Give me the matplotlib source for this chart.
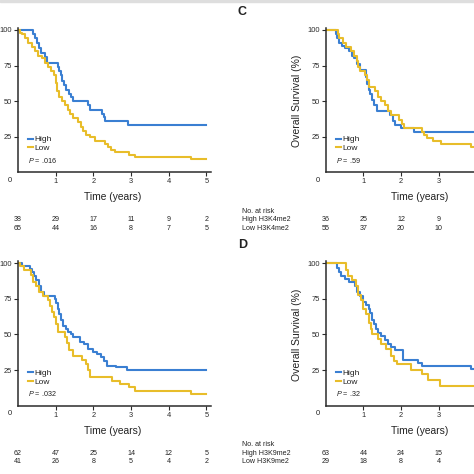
import matplotlib
matplotlib.use("Agg")
import matplotlib.pyplot as plt
from matplotlib.patches import Rectangle

plt.rcParams['font.family'] = ['Liberation Sans', 'DejaVu Sans']
plt.rcParams['mathtext.fontset'] = 'custom'
plt.rcParams['mathtext.it'] = 'Liberation Sans:italic'
plt.rcParams['mathtext.rm'] = 'Liberation Sans'
plt.rcParams['axes.linewidth'] = 1.1
plt.rcParams['axes.edgecolor'] = '#2b2b2b'
plt.rcParams['xtick.color'] = '#2b2b2b'
plt.rcParams['ytick.color'] = '#2b2b2b'
plt.rcParams['text.color'] = '#222222'

BLUE = '#3a7fd2'
YELLOW = '#e8bd2a'

# ---- data ----
tl_high_t = [0, 0.41, 0.45, 0.50, 0.55, 0.60, 0.72, 0.78, 1.05, 1.10, 1.13, 1.18, 1.23, 1.28,
             1.34, 1.40, 1.46, 1.85, 1.90, 2.22, 2.27, 2.32, 2.93, 5.0]
tl_high_s = [100, 97, 94, 91, 87, 84, 81, 77, 74, 71, 68, 64, 61, 58,
             55, 53, 50, 47, 44, 41, 39, 36, 33, 33]
tl_low_t = [0, 0.05, 0.10, 0.18, 0.27, 0.36, 0.45, 0.54, 0.63, 0.72, 0.80, 0.88, 0.95, 1.00,
            1.04, 1.09, 1.18, 1.25, 1.32, 1.38, 1.45, 1.60, 1.67, 1.73, 1.80, 1.90, 2.05,
            2.30, 2.38, 2.47, 2.56, 2.95, 3.10, 4.60, 5.0]
tl_low_s = [100, 98, 97, 94, 91, 88, 85, 82, 80, 77, 74, 71, 68, 63,
            57, 53, 50, 47, 44, 41, 38, 35, 32, 29, 26, 25, 22,
            20, 18, 16, 14, 12, 11, 9, 9]

tr_high_t = [0, 0.26, 0.30, 0.36, 0.42, 0.50, 0.62, 0.70, 0.75, 0.83, 0.90, 1.06, 1.10, 1.14,
             1.18, 1.22, 1.28, 1.36, 1.70, 1.78, 1.85, 2.00, 2.35, 5.0]
tr_high_s = [100, 97, 94, 91, 89, 87, 85, 82, 80, 76, 72, 67, 62, 58,
             55, 51, 47, 43, 40, 36, 33, 31, 28, 28]
tr_low_t = [0, 0.32, 0.36, 0.45, 0.55, 0.68, 0.76, 0.82, 0.87, 0.92, 1.04, 1.10, 1.15, 1.32,
            1.40, 1.48, 1.56, 1.66, 1.74, 1.95, 2.02, 2.08, 2.55, 2.62, 2.70, 2.85, 3.05,
            3.85, 4.30, 5.0]
tr_low_s = [100, 97, 94, 91, 88, 85, 82, 78, 74, 71, 68, 65, 60, 57,
            53, 50, 47, 43, 40, 37, 34, 31, 28, 26, 24, 22, 20,
            18, 16, 16]

bl_high_t = [0, 0.10, 0.32, 0.37, 0.42, 0.47, 0.55, 0.60, 0.68, 0.97, 1.02, 1.06, 1.10, 1.15,
             1.20, 1.27, 1.33, 1.40, 1.45, 1.65, 1.75, 1.85, 2.00, 2.10, 2.20, 2.27, 2.35,
             2.60, 2.90, 5.0]
bl_high_s = [100, 98, 96, 94, 91, 88, 84, 80, 77, 75, 72, 68, 64, 60,
             56, 54, 52, 50, 48, 45, 43, 40, 38, 36, 34, 31, 28,
             27, 25, 25]
bl_low_t = [0, 0.05, 0.15, 0.35, 0.40, 0.47, 0.55, 0.65, 0.80, 0.85, 0.90, 0.95, 1.00, 1.05,
            1.25, 1.30, 1.35, 1.45, 1.70, 1.80, 1.87, 1.92, 2.50, 2.70, 2.95, 3.10, 4.60, 5.0]
bl_low_s = [100, 98, 95, 92, 87, 84, 80, 77, 74, 70, 66, 62, 57, 52,
            48, 44, 39, 35, 32, 29, 25, 20, 17, 15, 13, 10, 8, 8]

br_high_t = [0, 0.30, 0.35, 0.40, 0.50, 0.62, 0.78, 0.84, 0.90, 0.98, 1.08, 1.14, 1.18, 1.23,
             1.28, 1.33, 1.40, 1.48, 1.56, 1.66, 1.74, 1.85, 2.05, 2.45, 2.55, 3.85, 5.0]
br_high_s = [100, 97, 94, 91, 89, 87, 84, 80, 77, 73, 71, 68, 65, 60,
             57, 54, 51, 49, 46, 43, 41, 39, 32, 30, 28, 26, 26]
br_low_t = [0, 0.53, 0.60, 0.70, 0.80, 0.86, 0.93, 1.00, 1.07, 1.14, 1.19, 1.24, 1.38, 1.48,
            1.60, 1.72, 1.82, 1.90, 2.25, 2.55, 2.72, 3.02, 5.0]
br_low_s = [100, 95, 91, 88, 84, 78, 74, 68, 64, 58, 54, 50, 47, 43,
            40, 35, 31, 29, 25, 22, 18, 14, 14]

# numbers at risk (right panels are cropped after 3 years)
tl_risk_high = [38, 29, 17, 11, 9, 2]
tl_risk_low = [65, 44, 16, 8, 7, 5]
tr_risk_high = [36, 25, 12, 9]
tr_risk_low = [55, 37, 20, 10]
bl_risk_high = [62, 47, 25, 14, 12, 5]
bl_risk_low = [41, 26, 8, 5, 4, 2]
br_risk_high = [63, 44, 24, 15]
br_risk_low = [29, 18, 8, 4]

y_ticks = [25, 50, 75, 100]
x_ticks_full = [1, 2, 3, 4, 5]
x_ticks_crop = [1, 2, 3]

W = 474.0


def rect(left_px, y0_px):
    # axes box in figure fraction, from pixel position of the origin
    w_px, h_px = 193.0, 144.5
    return [left_px / W, (W - y0_px) / W, w_px / W, h_px / W]


def panel(ax, high, low, pval, risk_high, risk_low, xticks, row_names=None):
    l1, = ax.step(high[0], high[1], where='post', color=BLUE, lw=1.5)
    l2, = ax.step(low[0], low[1], where='post', color=YELLOW, lw=1.5)
    ax.set_xlim(0, 5.12)
    ax.set_ylim(0, 101.5)
    for s in ['top', 'right']:
        ax.spines[s].set_visible(False)
    ax.set_yticks(y_ticks)
    ax.set_xticks(xticks)
    ax.tick_params(length=3.2, width=0.8, pad=1.2, labelsize=5.4)
    ax.text(-0.22, -5.8, "0", ha='center', va='center', fontsize=5.4, clip_on=False)
    ax.legend([l1, l2], ["High", "Low"], loc='center left', bbox_to_anchor=(0.053, 0.196),
              frameon=False, fontsize=6, handlelength=0.6, handletextpad=0.15,
              borderpad=0, borderaxespad=0, labelspacing=0.12)
    ax.text(0.27, 8.6, "$P$ = " + pval, ha='left', va='center', fontsize=5.2)
    ax.text(2.5, -17.5, "Time (years)", ha='center', va='center', fontsize=7.4, clip_on=False)
    for x, (a, b) in enumerate(zip(risk_high, risk_low)):
        ax.text(x, -33.5, str(a), ha='center', va='center', fontsize=5.1, clip_on=False)
        ax.text(x, -39.3, str(b), ha='center', va='center', fontsize=5.1, clip_on=False)
    if row_names is not None:
        ax.text(-0.77, 50, "Overall Survival (%)", rotation=90, ha='center', va='center',
                fontsize=7.5, clip_on=False)
        ax.text(-2.22, -27.2, "No. at risk", ha='left', va='center', fontsize=5.1, clip_on=False)
        ax.text(-2.22, -33.5, row_names[0], ha='left', va='center', fontsize=5.1, clip_on=False)
        ax.text(-2.22, -39.3, row_names[1], ha='left', va='center', fontsize=5.1, clip_on=False)


fig = plt.figure(figsize=(4.74, 4.74), dpi=100)
fig.patches.append(Rectangle((0, 1 - 2 / W), 1, 2 / W, transform=fig.transFigure,
                             color='#dedede', zorder=0))

ax1 = fig.add_axes(rect(18, 172.3))
panel(ax1, (tl_high_t, tl_high_s), (tl_low_t, tl_low_s), ".016", tl_risk_high, tl_risk_low,
      x_ticks_full)

ax2 = fig.add_axes(rect(325.7, 172.3))
panel(ax2, (tr_high_t, tr_high_s), (tr_low_t, tr_low_s), ".59", tr_risk_high, tr_risk_low,
      x_ticks_crop, ["High H3K4me2", "Low H3K4me2"])

ax3 = fig.add_axes(rect(18, 405.6))
panel(ax3, (bl_high_t, bl_high_s), (bl_low_t, bl_low_s), ".032", bl_risk_high, bl_risk_low,
      x_ticks_full)

ax4 = fig.add_axes(rect(325.7, 405.6))
panel(ax4, (br_high_t, br_high_s), (br_low_t, br_low_s), ".32", br_risk_high, br_risk_low,
      x_ticks_crop, ["High H3K9me2", "Low H3K9me2"])

fig.text(242.5 / W, 1 - 12 / W, "C", ha='center', va='center', fontsize=9, fontweight='bold')
fig.text(242.5 / W, 1 - 245 / W, "D", ha='center', va='center', fontsize=9, fontweight='bold')

fig.savefig("out.png", dpi=100)
